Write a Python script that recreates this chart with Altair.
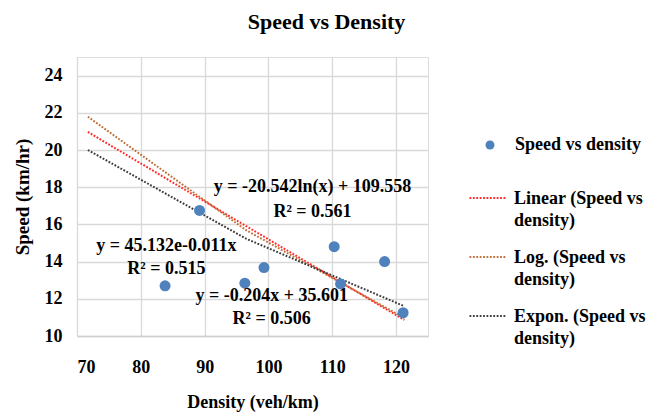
import altair as alt
import pandas as pd

# ---- data ----
density = [83.8, 89.2, 96.3, 99.3, 110.3, 111.3, 118.2, 121.1]
speed = [12.7, 16.75, 12.84, 13.68, 14.8, 12.8, 14.0, 11.25]

point_series = ["Speed vs density"]
point_colors = ["#4f81bd"]

trend_series = [
    "Linear (Speed vs density)",
    "Log. (Speed vs density)",
    "Expon. (Speed vs density)",
]
trend_colors = ["#ff2a2a", "#c0703a", "#3c3c3c"]

trend_x = [71.7, 96.5, 121.3]
linear_y = [20.97, 15.91, 10.86]
log_y = [21.79, 15.69, 10.97]
exp_y = [20.0, 15.23, 11.6]

eq_x = [106.9, 106.9, 84.0, 84.0, 100.5, 100.5]
eq_y = [18.0, 16.66, 14.83, 13.6, 12.14, 10.9]
eq_text = [
    "y = -20.542ln(x) + 109.558",
    "R² = 0.561",
    "y = 45.132e-0.011x",
    "R² = 0.515",
    "y = -0.204x + 35.601",
    "R² = 0.506",
]

x_ticks = [70, 80, 90, 100, 110, 120]
y_ticks = [10, 12, 14, 16, 18, 20, 22, 24]

FONT = "Liberation Serif"

points_df = pd.DataFrame({"density": density, "speed": speed, "series": point_series[0]})
trend_rows = []
for name, ys in zip(trend_series, [linear_y, log_y, exp_y]):
    for xv, yv in zip(trend_x, ys):
        trend_rows.append({"density": xv, "speed": yv, "series": name})
trend_df = pd.DataFrame(trend_rows)
eq_df = pd.DataFrame({"density": eq_x, "speed": eq_y, "text": eq_text})

x_scale = alt.Scale(domain=[70, 125], nice=False, zero=False)
y_scale = alt.Scale(domain=[10, 25], nice=False, zero=False)

x_axis = alt.Axis(
    values=x_ticks, title="Density (veh/km)", grid=True, gridColor="#d9d9d9", gridWidth=1.3,
    ticks=False, tickSize=0, domain=True, domainColor="#cfcfcf", domainWidth=1.3,
    labelFont=FONT, labelFontSize=18, labelFontWeight="bold", labelColor="#000",
    labelPadding=22, titleFont=FONT, titleFontSize=18, titleFontWeight="bold",
    titleColor="#000", titlePadding=17,
)
y_axis = alt.Axis(
    values=y_ticks, title="Speed (km/hr)", grid=True, gridColor="#d9d9d9", gridWidth=1.3,
    ticks=False, tickSize=0, domain=False,
    labelFont=FONT, labelFontSize=18, labelFontWeight="bold", labelColor="#000",
    labelPadding=15, titleFont=FONT, titleFontSize=19, titleFontWeight="bold",
    titleColor="#000", titlePadding=12,
)

point_legend = alt.Legend(
    title=None, orient="none", legendX=404, legendY=79, direction="vertical", padding=0,
    labelFont=FONT, labelFontSize=18, labelFontWeight="bold", labelColor="#000",
    symbolType="circle", symbolSize=81, labelOffset=16, labelLimit=300,
)
trend_legend = alt.Legend(
    title=None, orient="none", legendX=391.5, legendY=114, direction="vertical", padding=0,
    labelFont=FONT, labelFontSize=18, labelFontWeight="bold", labelColor="#000",
    labelExpr="split(replace(datum.label, ' density)', '|density)'), '|')",
    labelBaseline="top", labelLimit=300,
    symbolType="M-1,0.45H1", symbolSize=1296, symbolStrokeWidth=2,
    symbolDash=[1.8, 1.6], symbolFillColor="transparent",
    labelOffset=7.5, rowPadding=-3.5,
)

base_x = alt.X("density:Q", scale=x_scale, axis=x_axis)
base_y = alt.Y("speed:Q", scale=y_scale, axis=y_axis)

lines = alt.Chart(trend_df).mark_line(strokeDash=[1.8, 1.6], strokeWidth=2).encode(
    x=base_x, y=base_y,
    color=alt.Color("series:N", scale=alt.Scale(domain=trend_series, range=trend_colors),
                    legend=trend_legend),
    detail="series:N",
)
points = alt.Chart(points_df).mark_circle(size=121, opacity=1).encode(
    x=base_x, y=base_y,
    color=alt.Color("series:N", scale=alt.Scale(domain=point_series, range=point_colors),
                    legend=point_legend),
)
labels = alt.Chart(eq_df).mark_text(
    font=FONT, fontSize=18, fontWeight="bold", color="#000", align="center", baseline="middle"
).encode(x=base_x, y=base_y, text="text:N")

chart = alt.layer(lines, points, labels).resolve_scale(color="independent").properties(
    width=351, height=279,
    title=alt.TitleParams(
        "Speed vs Density", font=FONT, fontSize=22, fontWeight="bold", color="#000",
        anchor="middle", frame="group", dx=74, offset=6, baseline="alphabetic",
    ),
    autosize=alt.AutoSizeParams(type="none"),
    padding={"left": 69, "top": 49, "right": 226, "bottom": 76},
).configure_view(stroke=None).configure(
    background="white",
    style={"guide-label": {"lineHeight": 22}},
)

chart.save("out.html", embed_options={"renderer": "svg", "actions": False})
